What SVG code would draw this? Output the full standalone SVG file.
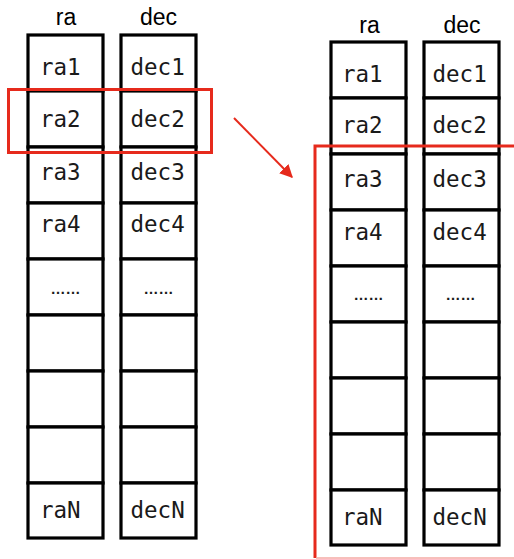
<svg xmlns="http://www.w3.org/2000/svg" width="514" height="559" viewBox="0 0 514 559">
<defs>
<style>
.cell{fill:#fff;stroke:#000;stroke-width:3.2}
.t{font-family:"DejaVu Sans Mono","Liberation Mono",monospace;font-size:22.5px;fill:#1a1a1a}
.d{font-family:"Liberation Sans",Arial,sans-serif;font-size:15px;fill:#1a1a1a;text-anchor:middle;font-weight:bold}
.h{font-family:"Liberation Sans",Arial,sans-serif;font-size:23px;fill:#000;text-anchor:middle}
.red{fill:none;stroke:#e62a1c;stroke-width:3}
</style>
<marker id="ah" viewBox="0 0 10 10" refX="9" refY="5" markerWidth="6.5" markerHeight="6.5" orient="auto" markerUnits="strokeWidth">
<path d="M0,0 L10,5 L0,10 z" fill="#e62a1c"/>
</marker>
</defs>
<rect width="514" height="559" fill="#fff"/>

<!-- Left table -->
<g id="left-table">
<text class="h" x="66" y="25">ra</text>
<text class="h" x="158.5" y="25">dec</text>
<g id="L-ra1"><rect class="cell" x="28" y="35" width="75" height="56"/><text class="t" x="40" y="75">ra1</text></g>
<g id="L-ra2"><rect class="cell" x="28" y="91" width="75" height="56"/><text class="t" x="40" y="127">ra2</text></g>
<g id="L-ra3"><rect class="cell" x="28" y="147" width="75" height="56"/><text class="t" x="40" y="180">ra3</text></g>
<g id="L-ra4"><rect class="cell" x="28" y="203" width="75" height="56"/><text class="t" x="40" y="232">ra4</text></g>
<g id="L-ra5"><rect class="cell" x="28" y="259" width="75" height="56"/><text class="d" x="65.5" y="294">……</text></g>
<g id="L-ra6"><rect class="cell" x="28" y="315" width="75" height="56"/></g>
<g id="L-ra7"><rect class="cell" x="28" y="371" width="75" height="56"/></g>
<g id="L-ra8"><rect class="cell" x="28" y="427" width="75" height="56"/></g>
<g id="L-raN"><rect class="cell" x="28" y="483" width="75" height="55"/><text class="t" x="40" y="518">raN</text></g>

<g id="L-dec1"><rect class="cell" x="121" y="35" width="75" height="56"/><text class="t" x="130.5" y="75">dec1</text></g>
<g id="L-dec2"><rect class="cell" x="121" y="91" width="75" height="56"/><text class="t" x="130.5" y="127">dec2</text></g>
<g id="L-dec3"><rect class="cell" x="121" y="147" width="75" height="56"/><text class="t" x="130.5" y="180">dec3</text></g>
<g id="L-dec4"><rect class="cell" x="121" y="203" width="75" height="56"/><text class="t" x="130.5" y="232">dec4</text></g>
<g id="L-dec5"><rect class="cell" x="121" y="259" width="75" height="56"/><text class="d" x="158.5" y="294">……</text></g>
<g id="L-dec6"><rect class="cell" x="121" y="315" width="75" height="56"/></g>
<g id="L-dec7"><rect class="cell" x="121" y="371" width="75" height="56"/></g>
<g id="L-dec8"><rect class="cell" x="121" y="427" width="75" height="56"/></g>
<g id="L-decN"><rect class="cell" x="121" y="483" width="75" height="55"/><text class="t" x="130.5" y="518">decN</text></g>
</g>

<!-- Right table -->
<g id="right-table">
<text class="h" x="369.5" y="33">ra</text>
<text class="h" x="462" y="33">dec</text>
<g id="R-ra1"><rect class="cell" x="331" y="42" width="75" height="56"/><text class="t" x="342" y="82">ra1</text></g>
<g id="R-ra2"><rect class="cell" x="331" y="98" width="75" height="56"/><text class="t" x="342" y="133">ra2</text></g>
<g id="R-ra3"><rect class="cell" x="331" y="154" width="75" height="56"/><text class="t" x="342" y="187">ra3</text></g>
<g id="R-ra4"><rect class="cell" x="331" y="210" width="75" height="56"/><text class="t" x="342" y="240">ra4</text></g>
<g id="R-ra5"><rect class="cell" x="331" y="266" width="75" height="56"/><text class="d" x="368.5" y="300">……</text></g>
<g id="R-ra6"><rect class="cell" x="331" y="322" width="75" height="56"/></g>
<g id="R-ra7"><rect class="cell" x="331" y="378" width="75" height="56"/></g>
<g id="R-ra8"><rect class="cell" x="331" y="434" width="75" height="56"/></g>
<g id="R-raN"><rect class="cell" x="331" y="490" width="75" height="55"/><text class="t" x="342" y="525">raN</text></g>

<g id="R-dec1"><rect class="cell" x="424" y="42" width="75" height="56"/><text class="t" x="432.5" y="82">dec1</text></g>
<g id="R-dec2"><rect class="cell" x="424" y="98" width="75" height="56"/><text class="t" x="432.5" y="133">dec2</text></g>
<g id="R-dec3"><rect class="cell" x="424" y="154" width="75" height="56"/><text class="t" x="432.5" y="187">dec3</text></g>
<g id="R-dec4"><rect class="cell" x="424" y="210" width="75" height="56"/><text class="t" x="432.5" y="240">dec4</text></g>
<g id="R-dec5"><rect class="cell" x="424" y="266" width="75" height="56"/><text class="d" x="460.5" y="300">……</text></g>
<g id="R-dec6"><rect class="cell" x="424" y="322" width="75" height="56"/></g>
<g id="R-dec7"><rect class="cell" x="424" y="378" width="75" height="56"/></g>
<g id="R-dec8"><rect class="cell" x="424" y="434" width="75" height="56"/></g>
<g id="R-decN"><rect class="cell" x="424" y="490" width="75" height="55"/><text class="t" x="432.5" y="525">decN</text></g>
</g>

<!-- Highlights and connector -->
<g id="highlight-left"><rect class="red" x="8.5" y="89.5" width="203" height="63"/></g>
<g id="highlight-right">
<path class="red" d="M516,146 H315 V558"/>
<line x1="316" y1="558" x2="514" y2="558" stroke="#f5aaa4" stroke-width="1.5"/>
</g>
<g id="connectors">
<line x1="234" y1="118" x2="292" y2="177" stroke="#e62a1c" stroke-width="2" marker-end="url(#ah)"/>
</g>
</svg>
